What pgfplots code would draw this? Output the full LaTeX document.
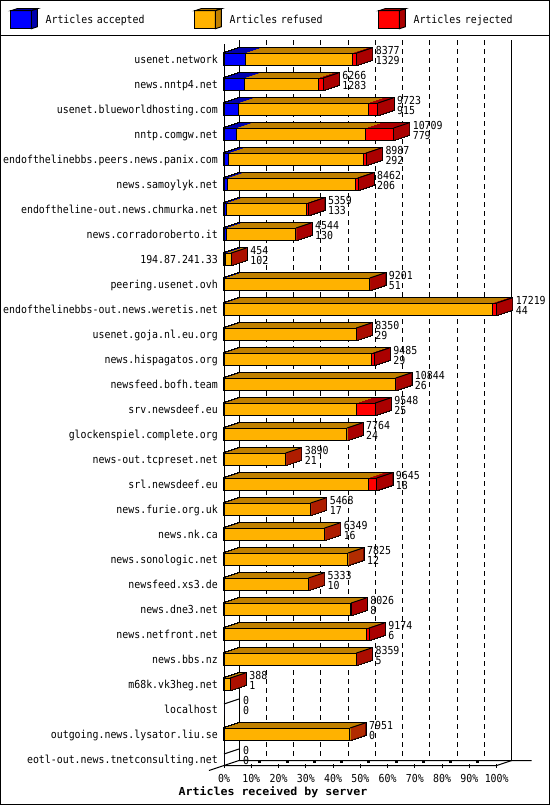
\documentclass[border=0pt]{standalone}
\usepackage{fontspec}
\usepackage{pgfplots}
\usepackage{pgfplotstable}
\pgfplotsset{compat=1.18}
\newfontfamily\gdfont[FakeStretch=0.9]{DejaVu Sans Mono}
\newfontfamily\gdboldfont[FakeStretch=1.057]{DejaVu Sans Mono}
\newcommand\gd{\gdfont\fontsize{11pt}{10.5pt}\selectfont}
\newcommand\gdb{\gdboldfont\bfseries\fontsize{11pt}{13pt}\selectfont}
\definecolor{cblue}{RGB}{0,0,255}
\definecolor{dblue}{RGB}{0,0,175}
\definecolor{corange}{RGB}{255,178,0}
\definecolor{dorange}{RGB}{192,128,0}
\definecolor{cred}{RGB}{255,0,0}
\definecolor{dred}{RGB}{170,0,0}
\pgfdeclareplotmark{diag}{%
  \pgfpathmoveto{\pgfqpoint{0pt}{6pt}}%
  \pgfpathlineto{\pgfqpoint{15pt}{11pt}}%
  \pgfusepathqstroke}
\newcommand\legcube[2]{%
  \draw[fill=#1, line width=1pt] (0pt,-8.2pt) rectangle (20.5pt,9.8pt);
  \draw[fill=#2, line width=1pt] (0pt,9.8pt) -- (20.5pt,9.8pt) -- (26.5pt,11.8pt) -- (6pt,11.8pt) -- cycle;
  \draw[fill=#2, line width=1pt] (20.5pt,-8.2pt) -- (20.5pt,9.8pt) -- (26.5pt,11.8pt) -- (26.5pt,-6.2pt) -- cycle;}
\pgfplotstableread{
row acc ref rej total
0 1329 6783 265 8377
1 1283 4653 330 6266
2 915 8188 620 9723
3 779 8185 1745 10709
4 292 8525 170 8987
5 206 8106 150 8462
6 133 5056 170 5359
7 130 4384 30 4544
8 102 340 12 454
9 51 9110 40 9201
10 44 16925 250 17219
11 29 8311 10 8350
12 29 9266 190 9485
13 26 10778 40 10844
14 25 8363 1160 9548
15 24 7730 10 7764
16 21 3859 10 3890
17 18 9102 525 9645
18 17 5441 10 5468
19 16 6323 10 6349
20 12 7803 10 7825
21 10 5313 10 5333
22 8 8008 10 8026
23 6 8998 170 9174
24 5 8344 10 8359
25 1 387 0 388
26 0 0 0 0
27 0 7951 0 7951
28 0 0 0 0
}\servers
\begin{document}
\begin{tikzpicture}
\path[use as bounding box] (0,0) rectangle (550pt,-805pt);
\begin{axis}[
  at={(224pt,-765.5pt)}, anchor=south west,
  scale only axis, width=272.7pt, height=721.5pt,
  xmin=0, xmax=17219, ymin=-0.6, ymax=28.26, y dir=reverse,
  /pgf/bar width=12pt,
  clip=false,
  axis line style={draw=none},
  scaled x ticks=false,
  xtick={0,1721.9,3443.8,5165.7,6887.6,8609.5,10331.4,12053.3,13775.2,15497.1,17219},
  xticklabels={0\%,10\%,20\%,30\%,40\%,50\%,60\%,70\%,80\%,90\%,100\%},
  ytick={0,...,28},
  yticklabels={usenet.network,news.nntp4.net,usenet.blueworldhosting.com,nntp.comgw.net,endofthelinebbs.peers.news.panix.com,news.samoylyk.net,endoftheline-out.news.chmurka.net,news.corradoroberto.it,194.87.241.33,peering.usenet.ovh,endofthelinebbs-out.news.weretis.net,usenet.goja.nl.eu.org,news.hispagatos.org,newsfeed.bofh.team,srv.newsdeef.eu,glockenspiel.complete.org,news-out.tcpreset.net,srl.newsdeef.eu,news.furie.org.uk,news.nk.ca,news.sonologic.net,newsfeed.xs3.de,news.dne3.net,news.netfront.net,news.bbs.nz,m68k.vk3heg.net,localhost,outgoing.news.lysator.liu.se,eotl-out.news.tnetconsulting.net},
  xtick pos=left, ytick pos=left,
  ytick style={draw=none},
  major tick length=4pt, tick align=center,
  xtick style={black, line width=1pt},
  xticklabel style={anchor=base, inner sep=0pt, yshift=-15pt, font=\gd},
  yticklabel style={anchor=base east, inner sep=0pt, xshift=-4pt, yshift=-4pt, font=\gd},
  xlabel={Articles received by server},
  xlabel style={at={(axis description cs:0.1797,-0.04158)}, anchor=base, inner sep=0pt, font=\gdb},
  legend columns=3, reverse legend,
  legend style={at={(axis description cs:-0.78291,1.04962)}, anchor=north west,
    draw=none, fill=none, inner sep=0pt, outer sep=0pt, column sep=0pt, row sep=0pt,
    font=\gd, nodes={inner sep=0pt, text width=148.9pt, align=left, font=\gd},
    /tikz/every odd column/.append style={column sep=7.6pt}},
]
% back plane and floor
\pgfplotsinvokeforeach{1721.9,3443.8,5165.7,6887.6,8609.5,10331.4,12053.3,13775.2,15497.1}{
  \draw[line width=1pt, dash pattern=on 5pt off 4pt] ([shift={(15pt,4pt)}]axis cs:#1,-0.6) -- ([shift={(15pt,5pt)}]axis cs:#1,28.26);
  \fill ([shift={(7pt,2.5pt)}]axis cs:#1,28.26) rectangle ++(3pt,2.5pt);
}
\draw[line width=1pt] (axis cs:0,-0.6) -- (axis cs:0,28.26);
\draw[line width=1pt] ([shift={(15pt,4pt)}]axis cs:0,-0.6) -- ([shift={(15pt,5pt)}]axis cs:0,28.26);
\draw[line width=1pt] ([shift={(15pt,4pt)}]axis cs:17219,-0.6) -- ([shift={(15pt,5pt)}]axis cs:17219,28.26);
\draw[line width=1pt] (axis cs:0,28.26) -- (axis cs:17219,28.26) -- ([shift={(15pt,5pt)}]axis cs:17219,28.26);
\draw[line width=1pt] ([shift={(-15pt,-5pt)}]axis cs:0,28.26) -- ([shift={(15pt,5pt)}]axis cs:0,28.26) -- ([shift={(35pt,5pt)}]axis cs:17219,28.26);
% depth line of the two empty rows (localhost, eotl-out...)
\pgfplotsinvokeforeach{26,28}{
  \draw[line width=1pt] ([yshift=5pt]axis cs:0,#1) -- ([shift={(15pt,10pt)}]axis cs:0,#1);
}
% 3D depth: black outline sweep
\pgfplotsinvokeforeach{15,14,...,0}{
  \addplot[xbar, forget plot, fill=black, draw=black, line width=2pt, xshift=#1pt, yshift={round(#1/3)*1pt},
    restrict expr to domain={\thisrow{total}}{1:100000}]
    table[x expr=\thisrow{total}+50, y=row] {\servers};
}
% 3D depth: coloured sweep (top faces and side face)
\pgfplotsinvokeforeach{15,14,...,1}{
  \addplot[xbar, forget plot, fill=dred, draw=none, xshift=#1pt, yshift={round(#1/3)*1pt},
    restrict expr to domain={\thisrow{total}}{1:100000}]
    table[x expr=\thisrow{total}+50, y=row] {\servers};
  \addplot[xbar, forget plot, fill=dorange, draw=none, xshift=#1pt, yshift={round(#1/3)*1pt},
    restrict expr to domain={\thisrow{acc}+\thisrow{ref}}{1:100000}]
    table[x expr=\thisrow{acc}+\thisrow{ref}, y=row] {\servers};
  \addplot[xbar, forget plot, fill=dblue, draw=none, xshift=#1pt, yshift={round(#1/3)*1pt},
    restrict expr to domain={\thisrow{acc}}{1:100000}]
    table[x=acc, y=row] {\servers};
}
% front faces
\addplot[xbar, fill=cred, draw=black, line width=1pt,
  legend image code/.code={\legcube{cred}{dred}}]
  table[x=total, y=row] {\servers};
\addlegendentry{Articles rejected}
\addplot[xbar, fill=corange, draw=black, line width=1pt,
  legend image code/.code={\legcube{corange}{dorange}}]
  table[x expr=\thisrow{acc}+\thisrow{ref}, y=row] {\servers};
\addlegendentry{Articles refused}
\addplot[xbar, fill=cblue, draw=black, line width=1pt,
  legend image code/.code={\legcube{cblue}{dblue}}]
  table[x=acc, y=row] {\servers};
\addlegendentry{Articles accepted}
% top-right depth edge of every bar
\addplot[forget plot, only marks, mark=diag, mark options={draw=black, line width=1pt, solid},
  restrict expr to domain={\thisrow{total}}{1:100000}]
  table[x=total, y=row] {\servers};
% value labels: total (upper) and accepted (lower)
\addplot[forget plot, draw=none, mark=none, point meta=explicit symbolic,
  nodes near coords, nodes near coords style={anchor=base west, xshift=19pt, yshift=5pt, inner sep=0pt, font=\gd, text=black}]
  table[x=total, y=row, meta=total] {\servers};
\addplot[forget plot, draw=none, mark=none, point meta=explicit symbolic,
  nodes near coords, nodes near coords style={anchor=base west, xshift=19pt, yshift=-5.3pt, inner sep=0pt, font=\gd, text=black}]
  table[x=total, y=row, meta=acc] {\servers};
\end{axis}
\draw[line width=1pt] (0.5pt,-0.5pt) rectangle (549.5pt,-804.5pt);
\draw[line width=1pt] (0pt,-35.5pt) -- (550pt,-35.5pt);
\end{tikzpicture}
\end{document}
